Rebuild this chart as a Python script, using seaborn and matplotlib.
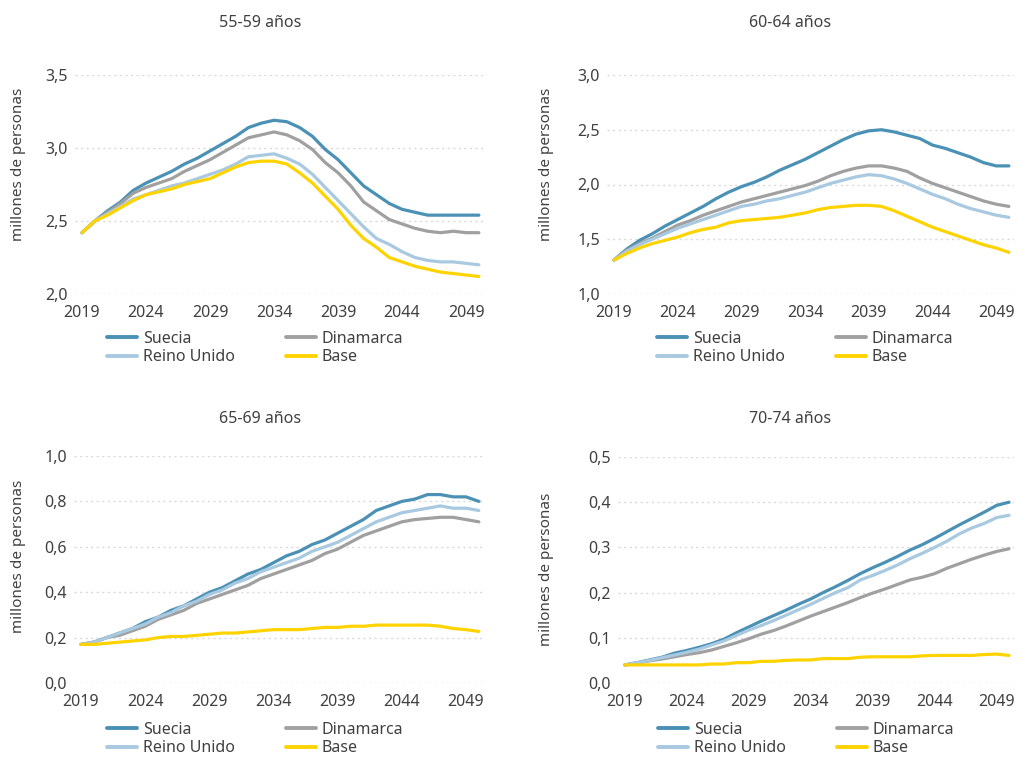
import seaborn as sns
import matplotlib.pyplot as plt
import pandas as pd

years = list(range(2019, 2051))
series_names = ["Suecia", "Dinamarca", "Reino Unido", "Base"]
series_colors = {
    "Suecia": "#4A91B5",
    "Dinamarca": "#A0A0A0",
    "Reino Unido": "#A8C9E0",
    "Base": "#FFD300",
}
panel_titles = ["55-59 años", "60-64 años", "65-69 años", "70-74 años"]
y_label = "millones de personas"

# 55-59 años
suecia_55 = [2.42, 2.50, 2.57, 2.63, 2.71, 2.76, 2.80, 2.84, 2.89, 2.93, 2.98, 3.03, 3.08, 3.14, 3.17, 3.19,
             3.18, 3.14, 3.08, 2.99, 2.92, 2.83, 2.74, 2.68, 2.62, 2.58, 2.56, 2.54, 2.54, 2.54, 2.54, 2.54]
dinamarca_55 = [2.42, 2.50, 2.56, 2.62, 2.69, 2.73, 2.76, 2.79, 2.84, 2.88, 2.92, 2.97, 3.02, 3.07, 3.09, 3.11,
                3.09, 3.05, 2.99, 2.90, 2.83, 2.74, 2.63, 2.57, 2.51, 2.48, 2.45, 2.43, 2.42, 2.43, 2.42, 2.42]
reino_55 = [2.42, 2.50, 2.55, 2.60, 2.65, 2.68, 2.71, 2.74, 2.76, 2.79, 2.82, 2.85, 2.89, 2.94, 2.95, 2.96,
            2.93, 2.89, 2.82, 2.73, 2.64, 2.55, 2.46, 2.38, 2.34, 2.29, 2.25, 2.23, 2.22, 2.22, 2.21, 2.20]
base_55 = [2.42, 2.50, 2.54, 2.59, 2.64, 2.68, 2.70, 2.72, 2.75, 2.77, 2.79, 2.83, 2.87, 2.90, 2.91, 2.91,
           2.89, 2.83, 2.76, 2.67, 2.58, 2.47, 2.38, 2.32, 2.25, 2.22, 2.19, 2.17, 2.15, 2.14, 2.13, 2.12]

# 60-64 años
suecia_60 = [1.31, 1.41, 1.49, 1.55, 1.62, 1.68, 1.74, 1.80, 1.87, 1.93, 1.98, 2.02, 2.07, 2.13, 2.18, 2.23,
             2.29, 2.35, 2.41, 2.46, 2.49, 2.50, 2.48, 2.45, 2.42, 2.36, 2.33, 2.29, 2.25, 2.20, 2.17, 2.17]
dinamarca_60 = [1.31, 1.40, 1.46, 1.51, 1.57, 1.63, 1.67, 1.72, 1.76, 1.80, 1.84, 1.87, 1.90, 1.93, 1.96, 1.99,
                2.03, 2.08, 2.12, 2.15, 2.17, 2.17, 2.15, 2.12, 2.06, 2.01, 1.97, 1.93, 1.89, 1.85, 1.82, 1.80]
reino_60 = [1.31, 1.39, 1.45, 1.50, 1.55, 1.60, 1.64, 1.68, 1.72, 1.76, 1.80, 1.82, 1.85, 1.87, 1.90, 1.93,
            1.97, 2.01, 2.04, 2.07, 2.09, 2.08, 2.05, 2.01, 1.96, 1.91, 1.87, 1.82, 1.78, 1.75, 1.72, 1.70]
base_60 = [1.31, 1.37, 1.42, 1.46, 1.49, 1.52, 1.56, 1.59, 1.61, 1.65, 1.67, 1.68, 1.69, 1.70, 1.72, 1.74,
           1.77, 1.79, 1.80, 1.81, 1.81, 1.80, 1.76, 1.71, 1.66, 1.61, 1.57, 1.53, 1.49, 1.45, 1.42, 1.38]

# 65-69 años
suecia_65 = [0.17, 0.18, 0.20, 0.22, 0.24, 0.27, 0.29, 0.32, 0.34, 0.37, 0.40, 0.42, 0.45, 0.48, 0.50, 0.53,
             0.56, 0.58, 0.61, 0.63, 0.66, 0.69, 0.72, 0.76, 0.78, 0.80, 0.81, 0.83, 0.83, 0.82, 0.82, 0.80]
dinamarca_65 = [0.17, 0.18, 0.20, 0.21, 0.23, 0.25, 0.28, 0.30, 0.32, 0.35, 0.37, 0.39, 0.41, 0.43, 0.46, 0.48,
                0.50, 0.52, 0.54, 0.57, 0.59, 0.62, 0.65, 0.67, 0.69, 0.71, 0.72, 0.725, 0.73, 0.73, 0.72, 0.71]
reino_65 = [0.17, 0.18, 0.20, 0.22, 0.24, 0.26, 0.29, 0.31, 0.34, 0.36, 0.39, 0.41, 0.44, 0.46, 0.49, 0.51,
            0.53, 0.55, 0.58, 0.60, 0.62, 0.65, 0.68, 0.71, 0.73, 0.75, 0.76, 0.77, 0.78, 0.77, 0.77, 0.76]
base_65 = [0.17, 0.17, 0.175, 0.18, 0.185, 0.19, 0.20, 0.205, 0.205, 0.21, 0.215, 0.22, 0.22, 0.225, 0.23, 0.235,
           0.235, 0.235, 0.24, 0.245, 0.245, 0.25, 0.25, 0.255, 0.255, 0.255, 0.255, 0.255, 0.25, 0.24, 0.235, 0.227]

# 70-74 años
suecia_70 = [0.040, 0.045, 0.051, 0.057, 0.066, 0.072, 0.079, 0.087, 0.097, 0.111, 0.124, 0.137, 0.149, 0.161,
             0.174, 0.186, 0.200, 0.213, 0.227, 0.242, 0.255, 0.267, 0.280, 0.294, 0.306, 0.320, 0.335, 0.350,
             0.364, 0.378, 0.393, 0.400]
dinamarca_70 = [0.040, 0.044, 0.049, 0.053, 0.058, 0.063, 0.067, 0.073, 0.081, 0.089, 0.098, 0.108, 0.116, 0.126,
                0.137, 0.148, 0.158, 0.168, 0.178, 0.189, 0.199, 0.208, 0.218, 0.228, 0.234, 0.242, 0.254, 0.264,
                0.274, 0.283, 0.291, 0.297]
reino_70 = [0.040, 0.045, 0.050, 0.056, 0.062, 0.068, 0.075, 0.084, 0.093, 0.105, 0.117, 0.127, 0.138, 0.150,
            0.162, 0.174, 0.187, 0.200, 0.211, 0.228, 0.238, 0.249, 0.261, 0.275, 0.287, 0.300, 0.314, 0.330,
            0.343, 0.353, 0.366, 0.371]
base_70 = [0.040, 0.040, 0.040, 0.040, 0.040, 0.040, 0.040, 0.042, 0.042, 0.045, 0.045, 0.048, 0.048, 0.050,
           0.051, 0.051, 0.054, 0.054, 0.054, 0.057, 0.058, 0.058, 0.058, 0.058, 0.060, 0.061, 0.061, 0.061,
           0.061, 0.063, 0.064, 0.061]

y_ticks = [
    [2.0, 2.5, 3.0, 3.5],
    [1.0, 1.5, 2.0, 2.5, 3.0],
    [0.0, 0.2, 0.4, 0.6, 0.8, 1.0],
    [0.0, 0.1, 0.2, 0.3, 0.4, 0.5],
]
x_ticks = [2019, 2024, 2029, 2034, 2039, 2044, 2049]

panel_values = [
    [suecia_55, dinamarca_55, reino_55, base_55],
    [suecia_60, dinamarca_60, reino_60, base_60],
    [suecia_65, dinamarca_65, reino_65, base_65],
    [suecia_70, dinamarca_70, reino_70, base_70],
]

W, H = 1021, 758
TEXT = "#404040"


def to_long(values):
    """Builds a long DataFrame (year, serie, value) for one panel."""
    frames = []
    for name, vals in zip(series_names, values):
        frames.append(pd.DataFrame({"year": years, "serie": name, "valor": vals}))
    return pd.concat(frames, ignore_index=True)


def fmt(v):
    # decimal comma, as in the original
    return f"{v:.1f}".replace(".", ",")


def plot_panel(fig, rect, df, ticks, title, title_xy, ylabel_xy, legend_xy):
    """Draws one age-group panel with its title, y label and legend."""
    l, t, r, b = rect
    ax = fig.add_axes([l / W, 1 - b / H, (r - l) / W, (b - t) / H])
    sns.lineplot(data=df, x="year", y="valor", hue="serie", hue_order=series_names,
                 palette=series_colors, linewidth=2.3, ax=ax, legend=False)
    ax.set_xlim(2018.45, 2050.4)
    ax.set_ylim(ticks[0], ticks[-1])
    ax.set_yticks(ticks)
    ax.set_yticklabels([fmt(v) for v in ticks])
    ax.set_xticks(x_ticks)
    ax.set_xticklabels([str(x) for x in x_ticks])
    ax.set_xlabel("")
    ax.set_ylabel("")
    ax.grid(axis="y", color="#D9D9D9", linestyle=(0, (1.5, 2.5)), linewidth=1)
    ax.grid(axis="x", visible=False)
    for s in ax.spines.values():
        s.set_visible(False)
    ax.tick_params(axis="both", length=0, labelsize=11.5, colors=TEXT)
    ax.tick_params(axis="x", pad=8)
    ax.tick_params(axis="y", pad=5)

    fig.text(title_xy[0] / W, 1 - title_xy[1] / H, title, ha="center", va="center",
             fontsize=11.5, color=TEXT)
    fig.text(ylabel_xy[0] / W, 1 - ylabel_xy[1] / H, y_label, ha="center", va="center",
             rotation=90, fontsize=11, color=TEXT)

    order = ["Suecia", "Reino Unido", "Dinamarca", "Base"]
    handles = [plt.Line2D([], [], color=series_colors[n], linewidth=2.8) for n in order]
    ax.legend(handles, order, loc="upper left", ncol=2, frameon=False,
              bbox_to_anchor=(legend_xy[0] / W, 1 - legend_xy[1] / H),
              bbox_transform=fig.transFigure, borderpad=0, borderaxespad=0,
              handlelength=1.9, handletextpad=0.35, columnspacing=3.2,
              labelspacing=0.15, fontsize=11.5, labelcolor=TEXT)
    return ax


sns.set_style("white")
plt.rcParams["font.family"] = ["Noto Sans", "DejaVu Sans"]

fig = plt.figure(figsize=(W / 100, H / 100), dpi=100)

rects = [(75, 75, 484, 294), (607, 75, 1014, 294), (74, 456, 484, 683), (618, 457, 1014, 683)]
title_pos = [(260, 23), (790, 23), (260, 419), (790, 419)]
ylabel_pos = [(18, 164), (547, 164), (18, 556), (547, 569)]
legend_pos = [(107, 331), (657, 331), (107, 722), (658, 722)]

for i in range(4):
    plot_panel(fig, rects[i], to_long(panel_values[i]), y_ticks[i], panel_titles[i],
               title_pos[i], ylabel_pos[i], legend_pos[i])

fig.savefig("out.png", dpi=100)
